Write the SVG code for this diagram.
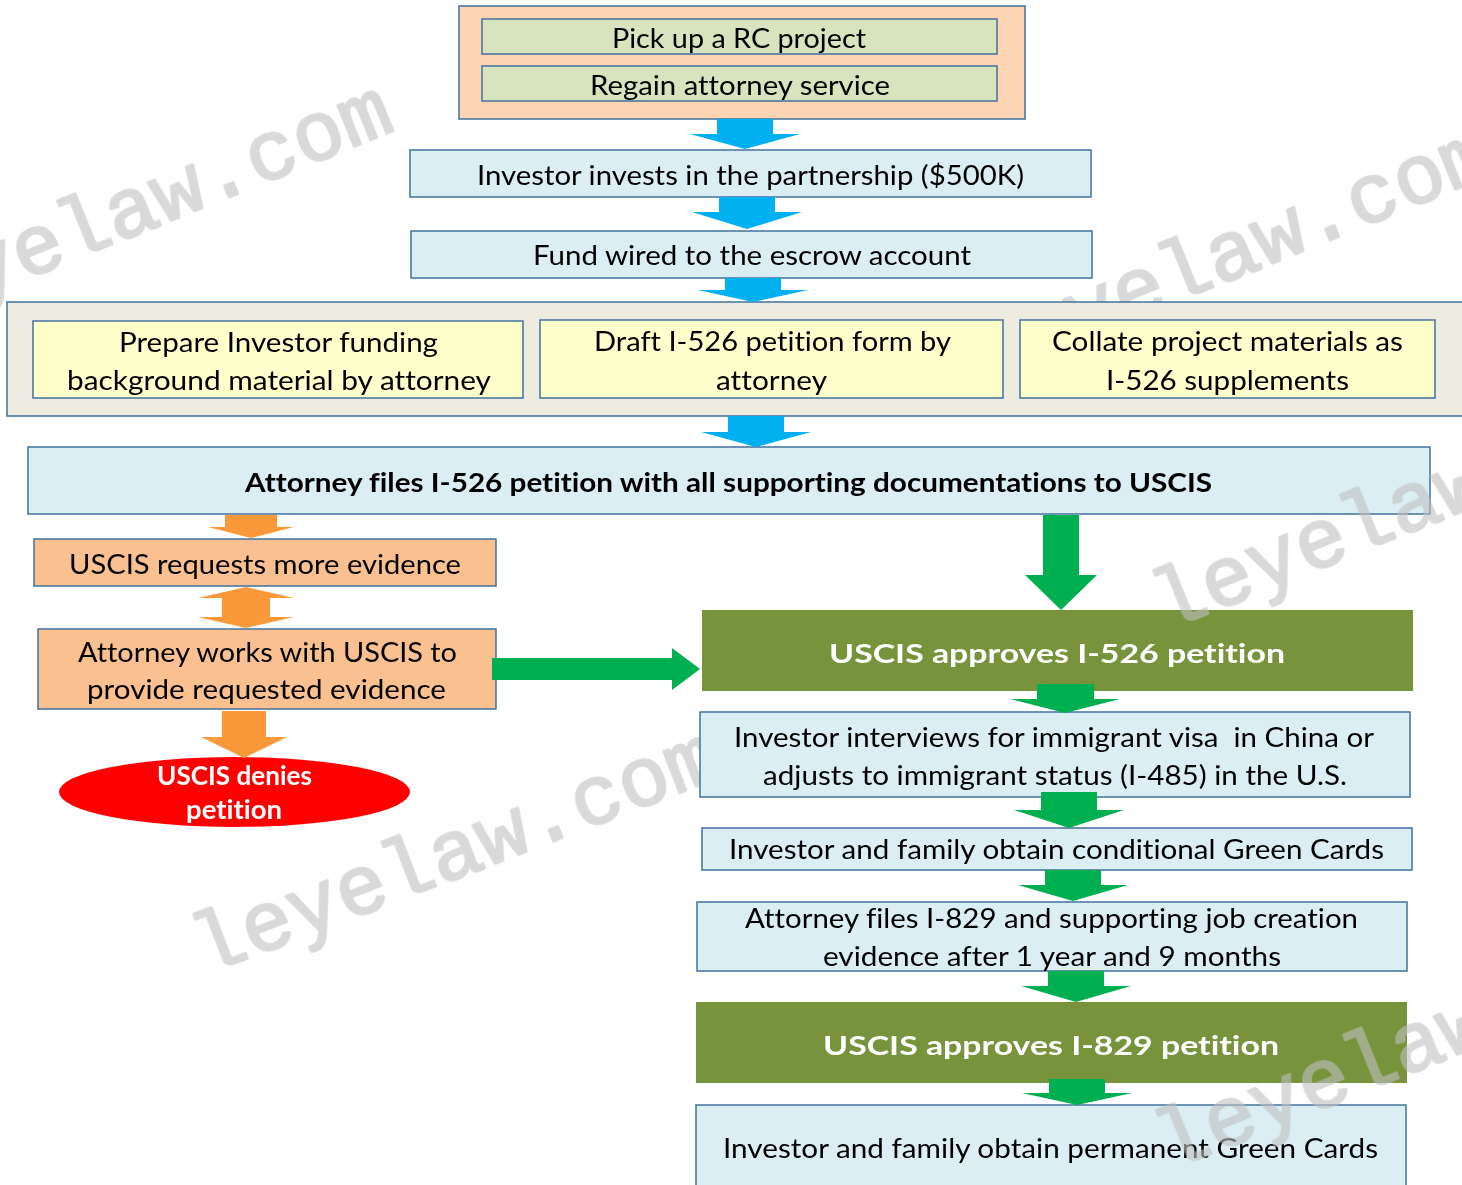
<svg xmlns="http://www.w3.org/2000/svg" width="1462" height="1185" viewBox="0 0 1462 1185">
<style>
.box{stroke:#41719c;stroke-width:1.5}
.t{font-family:Lato,"Open Sans","Liberation Sans",sans-serif;font-size:27px;fill:#000;text-anchor:middle;font-variant-ligatures:none}
.b{font-weight:bold}
.wt{fill:#fff}
.wm{font-family:"Liberation Mono","DejaVu Sans Mono",monospace;font-size:84px;fill:#c0c0c0;stroke:#c0c0c0;stroke-width:2.5;stroke-linejoin:round}
.blue{fill:#00b0f0}
.green{fill:#00b050}
.orange{fill:#f9993a}
</style>
<rect width="1462" height="1185" fill="#fff"/>
<g id="watermarks-back" opacity="0.6">
<text class="wm" font-size="87" transform="translate(-117,337) rotate(-22)">leyelaw.com</text>
<text class="wm" font-size="86" transform="translate(984,380) rotate(-22)">leyelaw.com</text>
<text class="wm" font-size="82" transform="translate(205,975) rotate(-21)">leyelaw.com</text>
</g>
<g id="n-start">
<rect class="box" x="459" y="6" width="566" height="113" fill="#fbd4b4"/>
<rect class="box" x="482" y="19" width="515" height="35" fill="#d7e4bd"/>
<text class="t" x="739" y="48" textLength="254" lengthAdjust="spacingAndGlyphs">Pick up a RC project</text>
<rect class="box" x="482" y="66" width="515" height="35" fill="#d7e4bd"/>
<text class="t" x="740" y="95" textLength="300" lengthAdjust="spacingAndGlyphs">Regain attorney service</text>
</g>
<g id="n-invest">
<rect class="box" x="410" y="150" width="681" height="47" fill="#dbeef4"/>
<text class="t" x="750.5" y="185" textLength="547" lengthAdjust="spacingAndGlyphs">Investor invests in the partnership ($500K)</text>
</g>
<g id="n-fund">
<rect class="box" x="411" y="231" width="681" height="47" fill="#dbeef4"/>
<text class="t" x="752" y="265" textLength="438" lengthAdjust="spacingAndGlyphs">Fund wired to the escrow account</text>
</g>
<g id="n-prep">
<rect class="box" x="7" y="302" width="1465" height="114" fill="#eeece1"/>
<g id="n-prep-funding">
<rect class="box" x="33" y="321" width="490" height="77" fill="#ffffcc"/>
<text class="t" x="278.5" y="352" textLength="319" lengthAdjust="spacingAndGlyphs">Prepare Investor funding</text>
<text class="t" x="279" y="390" textLength="424" lengthAdjust="spacingAndGlyphs">background material by attorney</text>
</g>
<g id="n-prep-draft">
<rect class="box" x="540" y="320" width="463" height="78" fill="#ffffcc"/>
<text class="t" x="772.5" y="351" textLength="357" lengthAdjust="spacingAndGlyphs">Draft I-526 petition form by</text>
<text class="t" x="771.5" y="390" textLength="111" lengthAdjust="spacingAndGlyphs">attorney</text>
</g>
<g id="n-prep-collate">
<rect class="box" x="1020" y="320" width="415" height="78" fill="#ffffcc"/>
<text class="t" x="1227.5" y="351" textLength="351" lengthAdjust="spacingAndGlyphs">Collate project materials as</text>
<text class="t" x="1227.5" y="390" textLength="243" lengthAdjust="spacingAndGlyphs">I-526 supplements</text>
</g>
</g>
<g id="n-file526">
<rect class="box" x="28" y="447" width="1402" height="67" fill="#dbeef4"/>
<text class="t b" x="728.5" y="492" textLength="967" lengthAdjust="spacingAndGlyphs">Attorney files I-526 petition with all supporting documentations to USCIS</text>
</g>
<g id="n-rfe">
<rect class="box" x="34" y="539" width="462" height="47" fill="#fac090"/>
<text class="t" x="265" y="574" textLength="392" lengthAdjust="spacingAndGlyphs">USCIS requests more evidence</text>
</g>
<g id="n-works">
<rect class="box" x="38" y="629" width="458" height="80" fill="#fac090"/>
<text class="t" x="267.5" y="662" textLength="379" lengthAdjust="spacingAndGlyphs">Attorney works with USCIS to</text>
<text class="t" x="266.5" y="699" textLength="359" lengthAdjust="spacingAndGlyphs">provide requested evidence</text>
</g>
<g id="n-deny">
<ellipse cx="234.5" cy="792" rx="175.5" ry="35" fill="#ff0000"/>
<text class="t b wt" x="234.5" y="785" font-size="26" textLength="155" lengthAdjust="spacingAndGlyphs">USCIS denies</text>
<text class="t b wt" x="234" y="819" font-size="26" textLength="96" lengthAdjust="spacingAndGlyphs">petition</text>
</g>
<g id="n-approve526">
<rect x="702" y="610" width="711" height="81" fill="#77933c"/>
<text class="t b wt" x="1057" y="663" font-size="32" textLength="456" lengthAdjust="spacingAndGlyphs">USCIS approves I-526 petition</text>
</g>
<g id="n-interview">
<rect class="box" x="700" y="712" width="710" height="85" fill="#dbeef4"/>
<text class="t" x="1054" y="747" xml:space="preserve" textLength="640" lengthAdjust="spacingAndGlyphs">Investor interviews for immigrant visa  in China or</text>
<text class="t" x="1055" y="785" textLength="584" lengthAdjust="spacingAndGlyphs">adjusts to immigrant status (I-485) in the U.S.</text>
</g>
<g id="n-conditional">
<rect class="box" x="702" y="828" width="710" height="42" fill="#dbeef4"/>
<text class="t" x="1056.5" y="859" textLength="655" lengthAdjust="spacingAndGlyphs">Investor and family obtain conditional Green Cards</text>
</g>
<g id="n-file829">
<rect class="box" x="697" y="902" width="710" height="69" fill="#dbeef4"/>
<text class="t" x="1051.5" y="928" textLength="613" lengthAdjust="spacingAndGlyphs">Attorney files I-829 and supporting job creation</text>
<text class="t" x="1052" y="966" textLength="458" lengthAdjust="spacingAndGlyphs">evidence after 1 year and 9 months</text>
</g>
<g id="n-approve829">
<rect x="696" y="1002" width="711" height="81" fill="#77933c"/>
<text class="t b wt" x="1051" y="1055" font-size="32" textLength="456" lengthAdjust="spacingAndGlyphs">USCIS approves I-829 petition</text>
</g>
<g id="n-permanent">
<rect class="box" x="696" y="1105" width="710" height="90" fill="#dbeef4"/>
<text class="t" x="1050.5" y="1158" textLength="655" lengthAdjust="spacingAndGlyphs">Investor and family obtain permanent Green Cards</text>
</g>
<g id="connectors">
<polygon class="blue" points="717,119 773,119 773,134 800,134 745,149 690,134 717,134"/>
<polygon class="blue" points="719,197 775,197 775,212 802,212 747,229 692,212 719,212"/>
<polygon class="blue" points="725,278 781,278 781,290 808,290 753,302 698,290 725,290"/>
<polygon class="blue" points="728,416 784,416 784,432 811,432 756,447 701,432 728,432"/>
<polygon class="orange" points="225,515 277,515 277,527 294,527 251,538 208,527 225,527"/>
<polygon class="orange" points="246,587 294,598 270,598 270,617 294,617 246,628 198,617 222,617 222,598 198,598"/>
<polygon class="orange" points="222,711 266,711 266,737 287,737 244,758 201,737 222,737"/>
<polygon class="green" points="492,658 672,658 672,648 700,669 672,690 672,680 492,680"/>
<polygon class="green" points="1043,515 1079,515 1079,575 1097,575 1061,610 1025,575 1043,575"/>
<polygon class="green" points="1037,684 1094,684 1094,699 1120,699 1065,713 1010,699 1037,699"/>
<polygon class="green" points="1041,792 1097,792 1097,810 1124,810 1069,828 1014,810 1041,810"/>
<polygon class="green" points="1045,870 1101,870 1101,885 1128,885 1073,901 1018,885 1045,885"/>
<polygon class="green" points="1048,971 1104,971 1104,986 1131,986 1076,1002 1021,986 1048,986"/>
<polygon class="green" points="1049,1079 1105,1079 1105,1093 1132,1093 1077,1105 1022,1093 1049,1093"/>
</g>
<g id="watermarks-front" opacity="0.6">
<text class="wm" transform="translate(1166,631) rotate(-22)">leyelaw.com</text>
<text class="wm" transform="translate(1169,1171) rotate(-22)">leyelaw.com</text>
</g>
</svg>
